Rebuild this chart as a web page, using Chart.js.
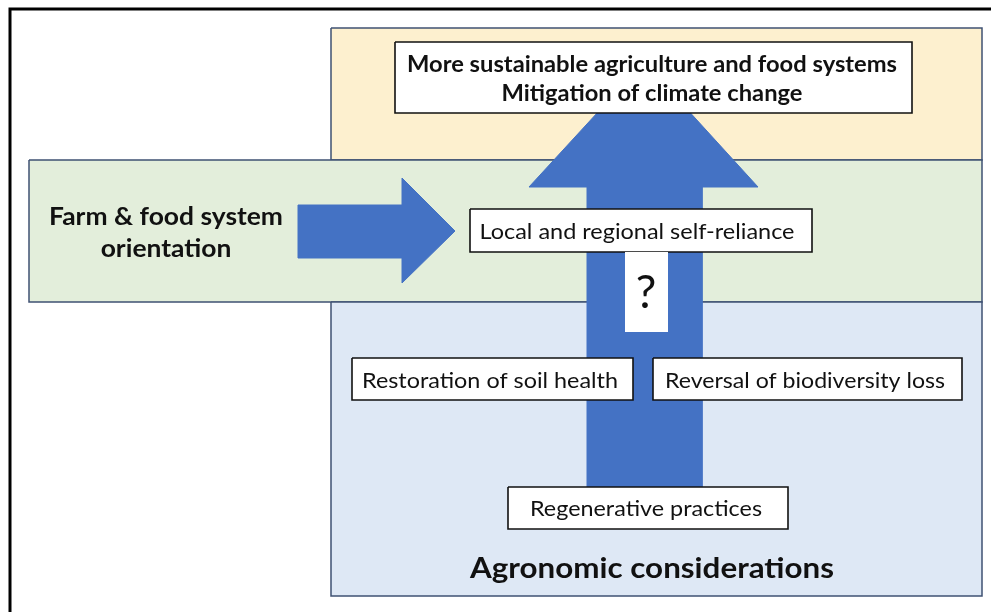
<!DOCTYPE html>
<html>
<head>
<meta charset="utf-8">
<script src="https://cdn.jsdelivr.net/npm/chart.js@4.4.1/dist/chart.umd.min.js"></script>
<style>
  html, body { margin: 0; padding: 0; background: #fff; }
  #wrap { width: 991px; height: 612px; position: relative; }
</style>
</head>
<body>
<div id="wrap"><canvas id="diagram"></canvas></div>
<script>
// Texts of the diagram
const topOutcomes = ['More sustainable agriculture and food systems', 'Mitigation of climate change'];
const orientationLabel = ['Farm & food system', 'orientation'];
const middleLabel = ['Local and regional self-reliance'];
const unknownLabel = ['?'];
const agronomicOutcomes = ['Restoration of soil health', 'Reversal of biodiversity loss'];
const practiceLabel = ['Regenerative practices'];
const agronomicTitle = ['Agronomic considerations'];

// Layout, in the units of the (hidden) x / y scales
const panels = [
    { x0: 331, y0: 28, x1: 982, y1: 160, fill: '#fdf0cf' },
    { x0: 29, y0: 160, x1: 982, y1: 302, fill: '#e3eedb' },
    { x0: 331, y0: 302, x1: 982, y1: 596, fill: '#dee8f5' }
];
const upArrow = [[587, 528], [587, 187], [529, 187], [644, 62], [758, 187], [702, 187], [702, 528]];
const rightArrow = [[298, 205], [402, 205], [402, 178], [455, 231], [402, 283], [402, 258], [298, 258]];
const boxes = [
    { x0: 395, y0: 42, x1: 912, y1: 113 },
    { x0: 470, y0: 209, x1: 812, y1: 252 },
    { x0: 625, y0: 252, x1: 668, y1: 332, noBorder: true },
    { x0: 352, y0: 358, x1: 633, y1: 400 },
    { x0: 653, y0: 358, x1: 962, y1: 400 },
    { x0: 508, y0: 487, x1: 788, y1: 529 }
];
const frame = [[10, 612], [10, 9], [991, 9]];

// Where each text goes: centre x, baseline y, target width, size
const textLayout = [
    { lines: topOutcomes, cx: 652, y: [72, 101], w: 490, size: 23, bold: true },
    { lines: orientationLabel, cx: 166, y: [225, 257], w: 234, size: 25, bold: true },
    { lines: middleLabel, cx: 637, y: [239], w: 315, size: 22 },
    { lines: unknownLabel, cx: 646, y: [308], size: 46 },
    { lines: [agronomicOutcomes[0]], cx: 490, y: [388], w: 256, size: 22 },
    { lines: [agronomicOutcomes[1]], cx: 805, y: [388], w: 280, size: 22 },
    { lines: practiceLabel, cx: 646, y: [516], w: 232, size: 22 },
    { lines: agronomicTitle, cx: 652, y: [578], w: 364, size: 28, bold: true }
];

const rect = b => [[b.x0, b.y0], [b.x1, b.y0], [b.x1, b.y1], [b.x0, b.y1], [b.x0, b.y0]];
const pts = arr => arr.map(p => ({ x: p[0], y: p[1] }));
const closed = arr => pts(arr.concat([arr[0]]));

const datasets = [];
panels.forEach((p, i) => datasets.push({
    data: pts(rect(p)), backgroundColor: p.fill, borderColor: '#3f5173', borderWidth: 1.5,
    fill: 'shape', order: 20 - i
}));
datasets.push({ data: closed(upArrow), backgroundColor: '#4472c4', borderColor: '#4472c4', borderWidth: 1, fill: 'shape', order: 10 });
datasets.push({ data: closed(rightArrow), backgroundColor: '#4472c4', borderColor: '#4472c4', borderWidth: 1, fill: 'shape', order: 9 });
boxes.forEach((b, i) => datasets.push({
    data: pts(rect(b)), backgroundColor: '#ffffff', borderColor: b.noBorder ? '#ffffff' : '#111111',
    borderWidth: b.noBorder ? 0 : 1.6, fill: 'shape', order: 5 - i * 0.1
}));
datasets.push({ data: pts(frame), borderColor: '#000000', borderWidth: 3, fill: false, order: 0 });
datasets.forEach(d => { d.pointRadius = 0; d.tension = 0; d.clip = false; });

const fontFamily = 'Lato, "Open Sans", sans-serif';

const labelsPlugin = {
    id: 'labels',
    afterDatasetsDraw(chart) {
        const { ctx, scales: { x, y } } = chart;
        ctx.save();
        ctx.fillStyle = '#111111';
        ctx.textAlign = 'center';
        ctx.textBaseline = 'alphabetic';
        textLayout.forEach(t => {
            ctx.font = (t.bold ? 'bold ' : '') + t.size + 'px ' + fontFamily;
            const widest = Math.max(...t.lines.map(l => ctx.measureText(l).width));
            const sx = t.w ? t.w / widest : 1;
            t.lines.forEach((line, i) => {
                ctx.save();
                ctx.translate(x.getPixelForValue(t.cx), y.getPixelForValue(t.y[i]));
                ctx.scale(sx, 1);
                ctx.fillText(line, 0, 0);
                ctx.restore();
            });
        });
        ctx.restore();
    }
};

new Chart(document.getElementById('diagram'), {
    type: 'line',
    data: { datasets },
    options: {
        responsive: true,
        maintainAspectRatio: false,
        animation: false,
        events: [],
        layout: { padding: 0 },
        scales: {
            x: { type: 'linear', min: 0, max: 991, display: false },
            y: { type: 'linear', min: 0, max: 612, reverse: true, display: false }
        },
        plugins: { legend: { display: false }, tooltip: { enabled: false } }
    },
    plugins: [labelsPlugin]
});
</script>
</body>
</html>
